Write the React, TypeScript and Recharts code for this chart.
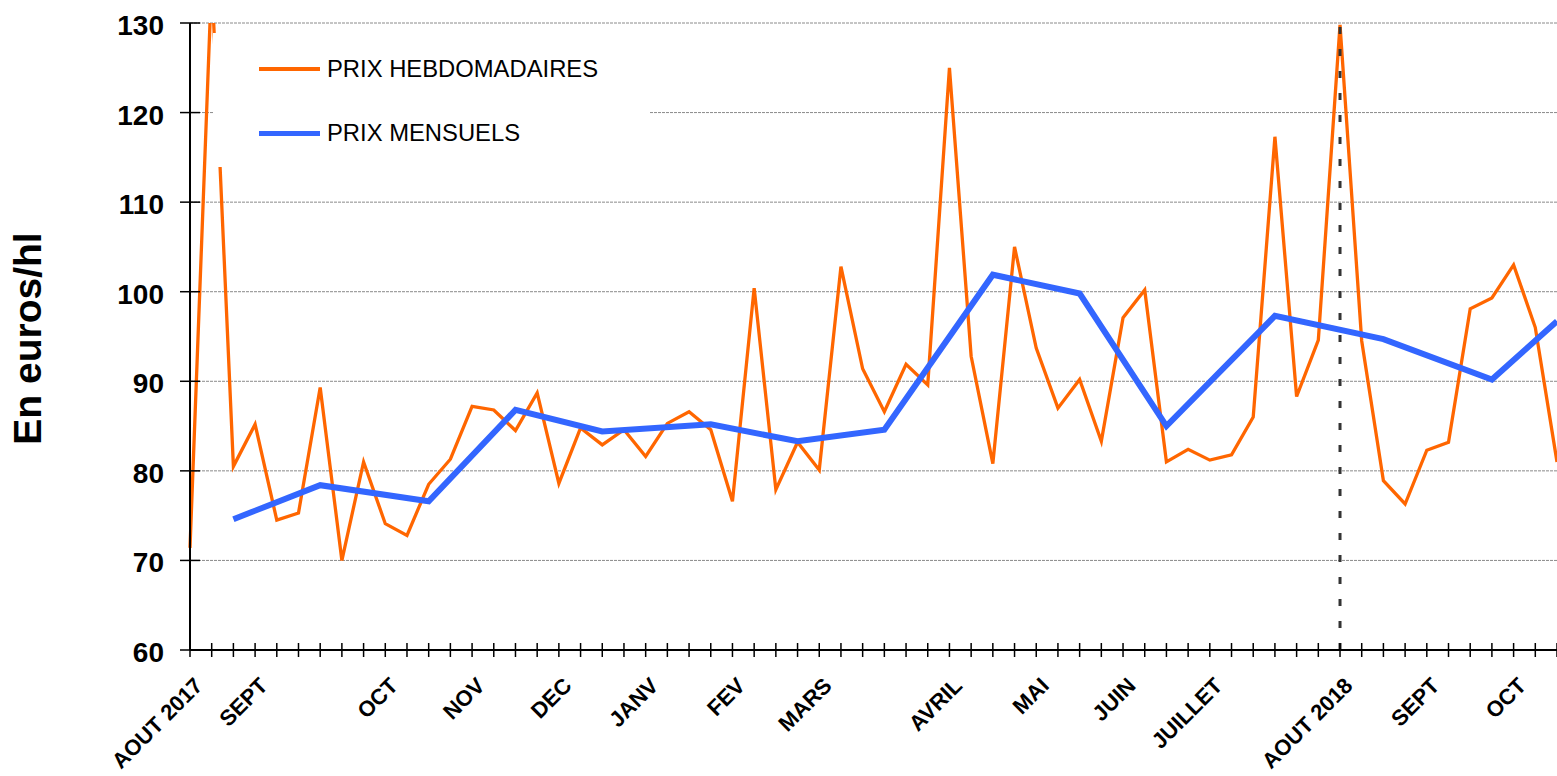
import { LineChart, Line, XAxis, YAxis, CartesianGrid, Legend, ReferenceLine } from "recharts";

const FONT = '"Liberation Sans", Arial, Helvetica, sans-serif';
const ORANGE = "#FF6600";
const BLUE = "#3366FF";

// prix hebdomadaires, une valeur par semaine (semaine 0 = début août 2017)
const PRIX_HEBDO = [
  71.4, 135, 80.5, 85.2, 74.5, 75.3, 89.3, 70.0, 81.0, 74.1,
  72.8, 78.5, 81.3, 87.2, 86.8, 84.5, 88.7, 78.6, 84.8, 82.9,
  84.6, 81.6, 85.3, 86.6, 84.6, 76.6, 100.4, 77.9, 83.2, 80.1,
  102.8, 91.4, 86.6, 91.9, 89.6, 125.0, 92.8, 80.8, 105.0, 93.7,
  87.0, 90.2, 83.3, 97.1, 100.2, 81.0, 82.4, 81.2, 81.8, 86.0,
  117.3, 88.3, 94.6, 129.8, 94.5, 78.9, 76.3, 82.3, 83.2, 98.1,
  99.3, 103.0, 96.0, 81.0,
];

// prix mensuels, placés sur la semaine du milieu de mois
const SEMAINES_MENSUELS = [2, 6, 11, 15, 19, 24, 28, 32, 37, 41, 45, 50, 55, 60, 63];
const PRIX_MENSUELS = [74.6, 78.4, 76.6, 86.8, 84.4, 85.2, 83.3, 84.6, 101.9, 99.8, 85.0, 97.3, 94.7, 90.2, 96.7];

const MOIS_LABELS = ["AOUT 2017", "SEPT", "OCT", "NOV", "DEC", "JANV", "FEV", "MARS", "AVRIL", "MAI", "JUIN", "JUILLET", "AOUT 2018", "SEPT", "OCT"];
const MOIS_SEMAINES = [0, 3, 9, 13, 17, 21, 25, 29, 35, 39, 43, 47, 53, 57, 61];

const Y_TICKS = [60, 70, 80, 90, 100, 110, 120, 130];
const SEMAINE_AOUT_2018 = 53;

const data = PRIX_HEBDO.map((v, i) => {
  const m = SEMAINES_MENSUELS.indexOf(i);
  return { semaine: i, hebdo: v, mensuel: m >= 0 ? PRIX_MENSUELS[m] : null };
});

function XTick({ x, y, payload }: any) {
  const k = MOIS_SEMAINES.indexOf(payload.value);
  const ax = x + 14;
  const ay = y + 37;
  return (
    <g>
      <line x1={x} y1={y - 7} x2={x} y2={y + 7} stroke="#000" strokeWidth={1.5} />
      {k >= 0 && (
        <text
          x={ax}
          y={ay}
          textAnchor="end"
          transform={`rotate(-45, ${ax}, ${ay})`}
          fontSize={22}
          fontWeight="bold"
          fontFamily={FONT}
          fill="#000"
        >
          {MOIS_LABELS[k]}
        </text>
      )}
    </g>
  );
}

function YTick({ x, y, payload }: any) {
  return (
    <g>
      <line x1={x - 10} y1={y} x2={x + 10} y2={y} stroke="#000" strokeWidth={1.5} />
      <text x={x - 26} y={y + 12} textAnchor="end" fontSize={28} fontWeight="bold" fontFamily={FONT} fill="#000">
        {payload.value}
      </text>
    </g>
  );
}

const renderYTitle = (props: any) => {
  const vb = props.viewBox;
  const cx = vb.x + 27;
  const cy = vb.y + vb.height / 2 + 2;
  return (
    <text
      x={cx}
      y={cy}
      textAnchor="middle"
      dominantBaseline="central"
      transform={`rotate(-90, ${cx}, ${cy})`}
      fontSize={39}
      fontWeight="bold"
      fontFamily={FONT}
      fill="#000"
    >
      En euros/hl
    </text>
  );
};

const renderLegend = (props: any) => (
  <div style={{ position: "relative", width: 436, height: 134, background: "#fff" }}>
    {(props.payload || []).map((entry: any, i: number) => {
      const cy = 36 + i * 64;
      const th = i === 0 ? 3.5 : 5;
      return (
        <div key={entry.value}>
          <div style={{ position: "absolute", left: 46, top: cy - th / 2, width: 61, height: th, background: entry.color }} />
          <div
            style={{
              position: "absolute",
              left: 114,
              top: cy - 15,
              height: 30,
              lineHeight: "30px",
              fontSize: 23.8,
              fontFamily: FONT,
              color: "#000",
              whiteSpace: "nowrap",
            }}
          >
            {entry.value}
          </div>
        </div>
      );
    })}
  </div>
);

export default function App() {
  return (
    <div style={{ position: "absolute", left: 0, top: 0, width: 1557, height: 776, overflow: "hidden", background: "#fff" }}>
      <LineChart width={1557} height={776} data={data} margin={{ top: 23, right: 0, bottom: 0, left: 0 }}>
        <CartesianGrid vertical={false} stroke="#8a8a8a" strokeDasharray="3 1" />
        <XAxis
          dataKey="semaine"
          type="category"
          interval={0}
          height={126}
          tick={<XTick />}
          tickSize={0}
          tickMargin={0}
          tickLine={false}
          axisLine={{ stroke: "#000", strokeWidth: 2 }}
        />
        <YAxis
          domain={[60, 130]}
          ticks={Y_TICKS}
          allowDataOverflow
          width={190}
          tick={<YTick />}
          tickSize={0}
          tickMargin={0}
          tickLine={false}
          axisLine={{ stroke: "#000", strokeWidth: 2 }}
          label={renderYTitle}
        />
        <Line
          type="linear"
          dataKey="hebdo"
          name="PRIX HEBDOMADAIRES"
          stroke={ORANGE}
          strokeWidth={3.3}
          dot={false}
          isAnimationActive={false}
        />
        <Line
          type="linear"
          dataKey="mensuel"
          name="PRIX MENSUELS"
          stroke={BLUE}
          strokeWidth={6}
          dot={false}
          connectNulls
          isAnimationActive={false}
        />
        <ReferenceLine x={SEMAINE_AOUT_2018} stroke="#333" strokeWidth={3} strokeDasharray="7 15" />
        <Legend
          layout="vertical"
          align="center"
          verticalAlign="middle"
          width={436}
          height={134}
          wrapperStyle={{ left: 213, top: 33, backgroundColor: "#fff" }}
          content={renderLegend}
        />
      </LineChart>
    </div>
  );
}
